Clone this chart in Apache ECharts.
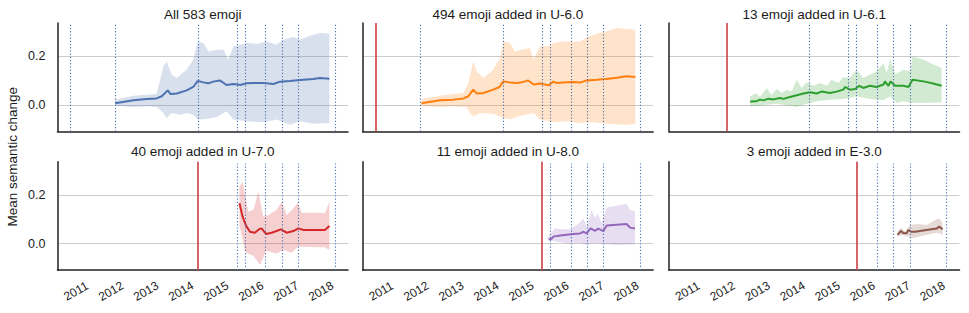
<!DOCTYPE html>
<html><head><meta charset="utf-8">
<script src="https://cdn.jsdelivr.net/npm/echarts@6/dist/echarts.min.js"></script>
<style>html,body{margin:0;padding:0;background:#fff}#c{width:969px;height:313px}</style>
</head><body><div id="c"></div>
<script>
// ---------- data ----------
const panelTitles = ['All 583 emoji','494 emoji added in U-6.0','13 emoji added in U-6.1','40 emoji added in U-7.0','11 emoji added in U-8.0','3 emoji added in E-3.0'];
const releaseDates = [2010.83, 2012.12, 2014.48, 2015.60, 2015.83, 2016.42, 2016.89, 2017.35, 2018.40];
const addedAtRelease = [null, 0, 1, 2, 3, 4];
const yearTicks = [2011, 2012, 2013, 2014, 2015, 2016, 2017, 2018];
const valueTicks = [0, 0.2];
const yLabel = 'Mean semantic change';

const p1_t = [2012.12,2012.64,2013.02,2013.30,2013.45,2013.62,2013.70,2013.88,2014.16,2014.35,2014.48,2014.64,2014.78,2014.92,2015.11,2015.30,2015.50,2015.69,2015.88,2016.07,2016.35,2016.64,2016.83,2017.11,2017.40,2017.78,2017.97,2018.24];
const p1_mean = [0.007,0.019,0.025,0.027,0.036,0.060,0.045,0.047,0.060,0.074,0.099,0.093,0.089,0.096,0.101,0.082,0.086,0.082,0.089,0.090,0.090,0.086,0.096,0.099,0.103,0.107,0.111,0.108];
const p1_hiT = [2012.12,2012.64,2013.02,2013.30,2013.50,2013.59,2013.73,2013.88,2014.16,2014.35,2014.48,2014.64,2014.78,2015.02,2015.21,2015.35,2015.50,2015.69,2015.88,2016.16,2016.45,2016.73,2016.92,2017.21,2017.40,2017.69,2017.97,2018.24];
const p1_hi = [0.022,0.038,0.042,0.045,0.159,0.179,0.125,0.111,0.145,0.186,0.261,0.255,0.220,0.227,0.227,0.186,0.241,0.248,0.255,0.251,0.261,0.248,0.268,0.279,0.268,0.285,0.296,0.293];
const p1_loT = [2012.12,2012.64,2013.02,2013.30,2013.50,2013.59,2013.73,2013.97,2014.16,2014.35,2014.48,2014.73,2015.02,2015.30,2015.50,2015.88,2016.35,2016.73,2017.11,2017.40,2017.78,2018.24];
const p1_lo = [-0.003,-0.008,-0.005,-0.008,-0.033,-0.053,-0.033,-0.040,-0.033,-0.040,-0.060,-0.058,-0.049,-0.026,-0.060,-0.067,-0.071,-0.060,-0.081,-0.067,-0.077,-0.074];

const p2_t = [2012.15,2012.68,2013.06,2013.35,2013.49,2013.63,2013.73,2013.92,2014.20,2014.38,2014.49,2014.68,2014.87,2015.01,2015.20,2015.35,2015.54,2015.78,2015.92,2016.01,2016.30,2016.49,2016.68,2016.87,2017.16,2017.44,2017.73,2018.01,2018.26];
const p2_mean = [0.007,0.019,0.022,0.027,0.036,0.063,0.047,0.049,0.063,0.074,0.097,0.092,0.090,0.093,0.101,0.084,0.088,0.081,0.096,0.090,0.093,0.094,0.092,0.101,0.104,0.107,0.112,0.118,0.115];
const p2_hiT = [2012.15,2012.68,2013.06,2013.35,2013.49,2013.63,2013.73,2013.92,2014.20,2014.39,2014.49,2014.68,2014.82,2015.01,2015.25,2015.35,2015.54,2015.78,2015.92,2016.20,2016.49,2016.68,2016.92,2017.25,2017.44,2017.73,2018.01,2018.26];
const p2_hi = [0.025,0.038,0.045,0.049,0.090,0.179,0.138,0.111,0.145,0.193,0.261,0.255,0.220,0.227,0.234,0.186,0.241,0.241,0.255,0.261,0.261,0.261,0.282,0.296,0.303,0.316,0.312,0.309];
const p2_loT = [2012.15,2012.68,2013.06,2013.44,2013.54,2013.63,2013.82,2014.20,2014.49,2014.68,2014.96,2015.35,2015.54,2015.92,2016.30,2016.68,2017.06,2017.44,2018.01,2018.26];
const p2_lo = [-0.003,-0.008,-0.005,-0.008,-0.033,-0.047,-0.033,-0.036,-0.053,-0.060,-0.044,-0.033,-0.060,-0.071,-0.067,-0.074,-0.071,-0.077,-0.081,-0.077];

const p3_t = [2012.79,2012.96,2013.07,2013.17,2013.31,2013.45,2013.64,2013.74,2013.93,2014.12,2014.31,2014.50,2014.69,2014.83,2015.07,2015.26,2015.45,2015.50,2015.64,2015.79,2015.91,2016.02,2016.21,2016.40,2016.60,2016.64,2016.74,2016.80,2016.93,2017.17,2017.31,2017.43,2017.74,2018.02,2018.26];
const p3_mean = [0.014,0.015,0.022,0.019,0.026,0.023,0.029,0.025,0.033,0.040,0.047,0.052,0.047,0.055,0.049,0.055,0.063,0.074,0.063,0.066,0.079,0.070,0.079,0.074,0.084,0.097,0.079,0.097,0.079,0.079,0.074,0.104,0.097,0.088,0.079];
const p3_hiT = [2012.79,2012.96,2013.07,2013.26,2013.40,2013.55,2013.69,2013.83,2013.98,2014.12,2014.26,2014.40,2014.60,2014.79,2014.98,2015.12,2015.31,2015.45,2015.64,2015.83,2016.02,2016.21,2016.40,2016.60,2016.69,2016.79,2016.93,2017.17,2017.36,2017.43,2017.74,2018.02,2018.26];
const p3_hi = [0.036,0.049,0.033,0.070,0.042,0.066,0.049,0.063,0.056,0.104,0.070,0.093,0.079,0.090,0.079,0.104,0.090,0.115,0.111,0.145,0.111,0.125,0.138,0.172,0.131,0.189,0.125,0.145,0.138,0.200,0.186,0.166,0.152];
const p3_loT = [2012.79,2013.07,2013.26,2013.55,2013.93,2014.12,2014.40,2014.69,2015.07,2015.45,2015.83,2016.21,2016.60,2016.79,2016.98,2017.17,2017.43,2017.74,2018.26];
const p3_lo = [-0.005,-0.003,0.001,0.005,-0.003,-0.008,0.005,0.015,0.022,0.025,0.036,0.025,0.019,0.036,0.008,0.015,0.008,0.008,0.011];

const p4_t = [2015.67,2015.76,2015.86,2015.97,2016.11,2016.24,2016.30,2016.43,2016.59,2016.73,2016.85,2017.02,2017.21,2017.35,2017.50,2017.88,2018.11,2018.24];
const p4_mean = [0.166,0.111,0.073,0.049,0.045,0.060,0.063,0.040,0.045,0.052,0.059,0.045,0.052,0.063,0.056,0.056,0.056,0.073];
const p4_hiT = [2015.67,2015.76,2015.92,2016.07,2016.21,2016.35,2016.50,2016.73,2016.88,2017.02,2017.21,2017.33,2017.45,2017.88,2018.11,2018.24];
const p4_hi = [0.234,0.255,0.132,0.138,0.214,0.111,0.118,0.138,0.173,0.118,0.145,0.168,0.127,0.127,0.125,0.172];
const p4_loT = [2015.67,2015.83,2016.07,2016.26,2016.43,2016.73,2016.92,2017.16,2017.35,2017.88,2018.11,2018.24];
const p4_lo = [0.077,-0.033,-0.051,-0.088,-0.029,-0.040,-0.026,-0.037,-0.012,-0.015,-0.015,-0.026];

const p5_t = [2015.78,2015.85,2015.92,2016.11,2016.30,2016.49,2016.68,2016.78,2016.87,2016.98,2017.11,2017.20,2017.35,2017.44,2018.01,2018.11,2018.25];
const p5_mean = [0.018,0.018,0.029,0.034,0.037,0.040,0.042,0.049,0.042,0.063,0.053,0.062,0.052,0.075,0.081,0.066,0.062];
const p5_hiT = [2015.78,2015.97,2016.11,2016.39,2016.63,2016.78,2016.87,2017.01,2017.11,2017.18,2017.30,2017.44,2018.01,2018.11,2018.25];
const p5_hi = [0.032,0.063,0.059,0.059,0.081,0.104,0.070,0.138,0.104,0.125,0.084,0.149,0.163,0.138,0.132];
const p5_loT = [2015.78,2016.01,2016.39,2016.68,2016.87,2017.06,2017.35,2017.73,2018.25];
const p5_lo = [0.015,0.008,0.001,0.004,-0.005,0.004,-0.001,-0.005,-0.003];

const p6_t = [2017.00,2017.10,2017.17,2017.26,2017.31,2017.39,2017.50,2017.83,2018.12,2018.19,2018.29];
const p6_mean = [0.036,0.052,0.043,0.043,0.056,0.049,0.049,0.056,0.062,0.070,0.059];
const p6_hiT = [2017.00,2017.10,2017.21,2017.36,2017.55,2017.83,2018.12,2018.20,2018.29];
const p6_hi = [0.049,0.067,0.049,0.077,0.081,0.077,0.100,0.104,0.084];
const p6_loT = [2017.00,2017.17,2017.31,2017.40,2017.83,2018.12,2018.20,2018.29];
const p6_lo = [0.032,0.036,0.029,0.022,0.036,0.045,0.043,0.036];

// ---------- styling / layout ----------
const panels = [
  [p1_t,p1_mean,p1_hiT,p1_hi,p1_loT,p1_lo],
  [p2_t,p2_mean,p2_hiT,p2_hi,p2_loT,p2_lo],
  [p3_t,p3_mean,p3_hiT,p3_hi,p3_loT,p3_lo],
  [p4_t,p4_mean,p4_hiT,p4_hi,p4_loT,p4_lo],
  [p5_t,p5_mean,p5_hiT,p5_hi,p5_loT,p5_lo],
  [p6_t,p6_mean,p6_hiT,p6_hi,p6_loT,p6_lo]
];
const colors = ['#4c72b0','#ff7f0e','#2ca02c','#d62728','#9467bd','#8c564b'];
const FONT = '"Liberation Sans", Arial, Helvetica, sans-serif';
const lefts = [57.5, 362.7, 669];
const tops = [23, 161.7];
const W = 290.5, H = 108.5;
const X_MIN = 2010.471, X_MAX = 2018.771;
const Y_MIN = -0.109, Y_MAX = 0.337;

function hexA(hex, a) {
  const n = parseInt(hex.slice(1), 16);
  return `rgba(${n>>16},${(n>>8)&255},${n&255},${a})`;
}

const grids = [], xAxes = [], yAxes = [], series = [], graphics = [];
for (let i = 0; i < 6; i++) {
  const row = Math.floor(i / 3), col = i % 3;
  grids.push({left: lefts[col], top: tops[row], width: W, height: H, containLabel: false});
  xAxes.push({
    type: 'value', gridIndex: i, min: X_MIN, max: X_MAX,
    axisLine: {show: true, onZero: false, lineStyle: {color: '#222', width: 1.5}},
    axisTick: {show: false, customValues: yearTicks},
    splitLine: {show: false},
    axisLabel: {show: row === 1, customValues: yearTicks, rotate: 30, align: 'center', verticalAlign: 'middle',
      margin: 21, fontSize: 12, fontFamily: FONT, color: '#1a1a1a', formatter: v => String(Math.round(v))}
  });
  yAxes.push({
    type: 'value', gridIndex: i, min: Y_MIN, max: Y_MAX,
    axisLine: {show: true, onZero: false, lineStyle: {color: '#222', width: 1.5}},
    axisTick: {show: false, customValues: valueTicks},
    splitLine: {show: true, lineStyle: {color: '#cccccc', width: 1}},
    axisLabel: {show: col === 0, customValues: valueTicks, margin: 12, fontSize: 12.5, fontFamily: FONT, color: '#1a1a1a',
      formatter: v => v.toFixed(1)}
  });
  const [t, m, hiT, hi, loT, lo] = panels[i];
  const poly = [];
  hiT.forEach((x, k) => poly.push([x, hi[k]]));
  for (let k = loT.length - 1; k >= 0; k--) poly.push([loT[k], lo[k]]);
  series.push({
    type: 'custom', xAxisIndex: i, yAxisIndex: i, clip: true, silent: true, z: 1,
    data: poly,
    renderItem: (params, api) => {
      if (params.dataIndex !== 0) return null;
      return {type: 'polygon', shape: {points: poly.map(p => api.coord(p))},
        style: {fill: hexA(colors[i], 0.22), stroke: 'none'}};
    }
  });
  const ra = addedAtRelease[i];
  const marks = [];
  releaseDates.forEach((d, k) => {
    if (ra === null || k > ra) marks.push({xAxis: d, lineStyle: {type: [1.2, 2], color: '#4c72b0', width: 1.1}});
  });
  if (ra !== null) marks.push({xAxis: releaseDates[ra], lineStyle: {type: 'solid', color: '#cf4b50', width: 1.7}});
  series.push({
    type: 'line', xAxisIndex: i, yAxisIndex: i, z: 3,
    data: t.map((x, k) => [x, m[k]]),
    showSymbol: false, symbol: 'none',
    lineStyle: {color: colors[i], width: 2},
    itemStyle: {color: colors[i]},
    markLine: {silent: true, symbol: ['none','none'], label: {show: false}, animation: false, data: marks}
  });
  graphics.push({type: 'text', x: lefts[col] + W / 2, y: row === 0 ? 14.5 : 151.5,
    style: {text: panelTitles[i], align: 'center', verticalAlign: 'middle', fontSize: 13.5, fontFamily: FONT, fill: '#1a1a1a'}});
}
graphics.push({type: 'text', x: 12.5, y: 156.7, rotation: Math.PI / 2,
  style: {text: yLabel, align: 'center', verticalAlign: 'middle', fontSize: 13.5, fontFamily: FONT, fill: '#1a1a1a'}});

const chart = echarts.init(document.getElementById('c'), null, {renderer: 'svg'});
chart.setOption({
  animation: false,
  backgroundColor: '#fff',
  grid: grids, xAxis: xAxes, yAxis: yAxes, series: series, graphic: graphics
});
</script></body></html>
